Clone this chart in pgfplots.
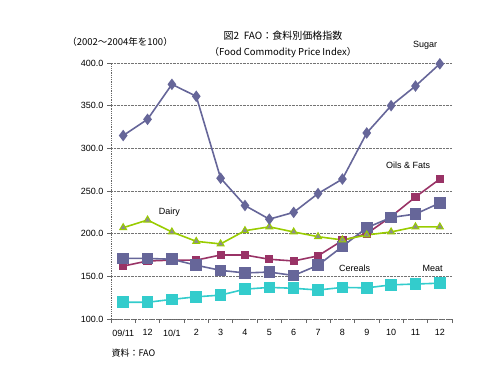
\documentclass[border=0pt]{standalone}
\usepackage{fontspec}
\setmainfont{Liberation Sans}
\newfontfamily\cjk{Noto Sans CJK JP}
\usepackage{pgfplots}
\pgfplotsset{compat=1.18}
\definecolor{sugar}{HTML}{666699}
\definecolor{oils}{HTML}{993366}
\definecolor{dairy}{HTML}{99CC00}
\definecolor{meat}{HTML}{33CCCC}
\begin{document}
\begin{tikzpicture}
\useasboundingbox (0pt,0pt) rectangle (478pt,376pt);
\begin{axis}[
  at={(111pt,57pt)}, anchor=south west,
  width=341pt, height=256pt, scale only axis,
  xmin=-0.5, xmax=13.5, ymin=100, ymax=400,
  axis x line*=bottom, axis y line*=left,
  axis line style={black!60, densely dotted, line width=0.8pt},
  xtick={0,...,13},
  xticklabels={09/11,12,10/1,2,3,4,5,6,7,8,9,10,11,12},
  minor xtick={-0.5,0.5,...,13.5},
  major x tick style={draw=none},
  minor x tick style={black!60, line width=0.6pt},
  minor tick length=4pt,
  ytick={100,150,...,400},
  y tick style={black!60, line width=0.6pt},
  major tick length=4pt,
  tick align=outside,
  ymajorgrids,
  major grid style={black!55, densely dotted, line width=0.8pt},
  yticklabel style={/pgf/number format/fixed,/pgf/number format/fixed zerofill,/pgf/number format/precision=1},
  /pgf/number format/assume math mode=true,
  tick label style={font=\fontsize{9}{10}\selectfont},
  xticklabel style={yshift=-3pt},
  clip=false,
  every axis plot/.append style={line width=1.6pt},
]
\addplot[oils, mark=square*, mark size=3.3pt, mark options={solid}] coordinates {
(0,162)(1,168)(2,169)(3,169)(4,175)(5,175)(6,170)(7,168)(8,174)(9,192)(10,200)(11,220)(12,243)(13,264)};
\addplot[sugar, mark=square*, mark size=5pt] coordinates {
(0,171)(1,171)(2,170)(3,163)(4,157)(5,154)(6,155)(7,151)(8,163)(9,185)(10,207)(11,219)(12,223)(13,236)};
\addplot[dairy, mark=triangle*, mark size=4pt, mark options={fill=black!45, draw=dairy, line width=1pt}] coordinates {
(0,207)(1,216)(2,202)(3,191)(4,188)(5,203.5)(6,208)(7,202)(8,196.5)(9,192.6)(10,198.5)(11,202)(12,208)(13,208)};
\addplot[meat, mark=square*, mark size=5pt] coordinates {
(0,119.6)(1,119.6)(2,123)(3,126)(4,128)(5,135)(6,137)(7,136)(8,134)(9,137)(10,136.5)(11,140)(12,141)(13,142)};
\addplot[sugar, mark=diamond*, mark size=4.5pt] coordinates {
(0,315)(1,334)(2,375)(3,361)(4,265)(5,233)(6,217)(7,225)(8,247)(9,264)(10,318)(11,350)(12,373)(13,399)};
\node[font=\fontsize{9}{10}\selectfont] at (axis cs:12.4,421) {Sugar};
\node[font=\fontsize{9}{10}\selectfont] at (axis cs:11.7,280) {Oils \& Fats};
\node[font=\fontsize{9}{10}\selectfont] at (axis cs:1.9,225) {Dairy};
\node[font=\fontsize{9}{10}\selectfont] at (axis cs:9.5,159) {Cereals};
\node[font=\fontsize{9}{10}\selectfont] at (axis cs:12.7,159) {Meat};
\end{axis}
\node[font=\cjk\fontsize{10}{12}\selectfont] at (283pt,340pt) {図2\ \ FAO：食料別価格指数};
\node[font=\cjk\fontsize{9.5}{11}\selectfont] at (283pt,323pt) {（Food Commodity Price Index）};
\node[font=\cjk\fontsize{9.5}{11}\selectfont] at (120pt,334pt) {（2002～2004年を100）};
\node[font=\cjk\fontsize{9}{11}\selectfont, anchor=west] at (108pt,23pt) {資料：FAO};
\end{tikzpicture}
\end{document}
